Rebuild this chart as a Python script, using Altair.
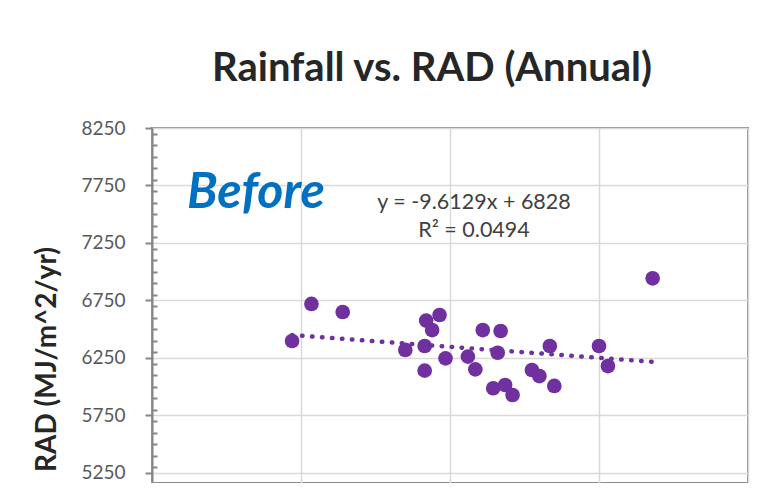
import altair as alt
import pandas as pd

# ---- data ----
rainfall = [39.4, 40.7, 42.8, 47.0, 48.3, 48.3, 48.4, 48.8, 49.3, 49.7, 51.2, 51.7, 52.2,
            52.9, 53.2, 53.4, 53.7, 54.2, 55.5, 56.0, 56.7, 57.0, 60.0, 60.6, 63.6]
rad = [6398, 6720, 6650, 6320, 6354, 6140, 6575, 6493, 6624, 6247, 6262, 6151, 6493,
       5987, 6296, 6485, 6015, 5928, 6146, 6093, 6354, 6007, 6354, 6180, 6943]
slope = -9.6129
intercept = 6828
equation_lines = ["y = -9.6129x + 6828", "R\u00b2 = 0.0494"]
stamp = ["Before"]
title_text = "Rainfall vs. RAD (Annual)"
y_title = "RAD (MJ/m^2/yr)"
y_ticks = [5250, 5750, 6250, 6750, 7250, 7750, 8250]
y_minor = [5300, 5400, 5500, 5600, 5700, 5800, 5900, 6000, 6100, 6200, 6300, 6400, 6500,
           6600, 6700, 6800, 6900, 7000, 7100, 7200, 7300, 7400, 7500, 7600, 7700, 7800,
           7900, 8000, 8100, 8200]
x_grid = [30, 40, 50, 60, 70]
x_domain = [30, 70]
y_domain = [5163, 8250]

W, H = 596, 355
PURPLE = "#7030A0"

df = pd.DataFrame({"Rainfall": rainfall, "RAD": rad})
tx = [min(rainfall), max(rainfall)]
trend = pd.DataFrame({"Rainfall": tx, "RAD": [slope * x + intercept for x in tx]})

xscale = alt.Scale(domain=x_domain, nice=False, zero=False)
yscale = alt.Scale(domain=y_domain, nice=False, zero=False)

x_axis = alt.Axis(values=x_grid, grid=True, labels=False, ticks=False, domain=False,
                  title=None, gridColor="#d9d9d9", gridWidth=1.5)

y_axis = alt.Axis(values=y_ticks, format="d", grid=True, gridColor="#d9d9d9", gridWidth=1.5,
                  domainColor="#868686", domainWidth=2, tickColor="#868686", tickWidth=2,
                  tickSize=7, labelFont="Lato", labelFontSize=19, labelColor="#595959",
                  labelPadding=20, title=y_title, titleFont="Lato", titleFontSize=28,
                  titleFontWeight="bold", titleColor="#262626", titleAngle=270,
                  titleAlign="center", titleBaseline="alphabetic", titleX=-97, titleY=231)

minor_axis = alt.Axis(orient="right", offset=-W, values=y_minor, labels=False, domain=False,
                      grid=False, tickColor="#868686", tickWidth=2, tickSize=5, title=None)

points = alt.Chart(df).mark_circle(size=215, color=PURPLE, opacity=1).encode(
    x=alt.X("Rainfall:Q", scale=xscale, axis=x_axis),
    y=alt.Y("RAD:Q", scale=yscale, axis=y_axis),
)

minor = alt.Chart(df).mark_circle(opacity=0).encode(
    x=alt.X("Rainfall:Q", scale=xscale, axis=x_axis),
    y=alt.Y("RAD:Q", scale=yscale, axis=minor_axis),
)

trend_line = alt.Chart(trend).mark_line(
    color=PURPLE, strokeWidth=4.5, strokeDash=[0.5, 9.5], strokeCap="round"
).encode(
    x=alt.X("Rainfall:Q", scale=xscale, axis=x_axis),
    y=alt.Y("RAD:Q", scale=yscale, axis=None),
)

eq1 = alt.Chart(pd.DataFrame({"t": [equation_lines[0]]})).mark_text(
    font="Lato", fontSize=21.5, color="#404040", align="center", baseline="alphabetic"
).encode(text="t:N", x=alt.value(322), y=alt.value(81))

eq2 = alt.Chart(pd.DataFrame({"t": [equation_lines[1]]})).mark_text(
    font="Lato", fontSize=21.5, color="#404040", align="center", baseline="alphabetic"
).encode(text="t:N", x=alt.value(322), y=alt.value(109))

before = alt.Chart(pd.DataFrame({"t": stamp})).mark_text(
    font="Lato", fontSize=50, fontStyle="italic", fontWeight="bold", color="#0070C0",
    align="left", baseline="alphabetic"
).encode(text="t:N", x=alt.value(35), y=alt.value(80))

chart = alt.layer(points, minor, trend_line, eq1, eq2, before).resolve_axis(
    y="independent"
).properties(
    width=W,
    height=H,
    padding={"left": 144, "top": 120, "right": 25, "bottom": 0},
    autosize=alt.AutoSizeParams(type="none"),
    title=alt.TitleParams(title_text, font="Lato", fontSize=40, fontWeight="bold",
                          color="#262626", anchor="middle", frame="group",
                          baseline="alphabetic", offset=3, dx=-18, dy=5),
).configure_view(stroke="#8c8c8c", strokeWidth=2)

chart.save("out.html", embed_options={"renderer": "svg", "actions": False})
